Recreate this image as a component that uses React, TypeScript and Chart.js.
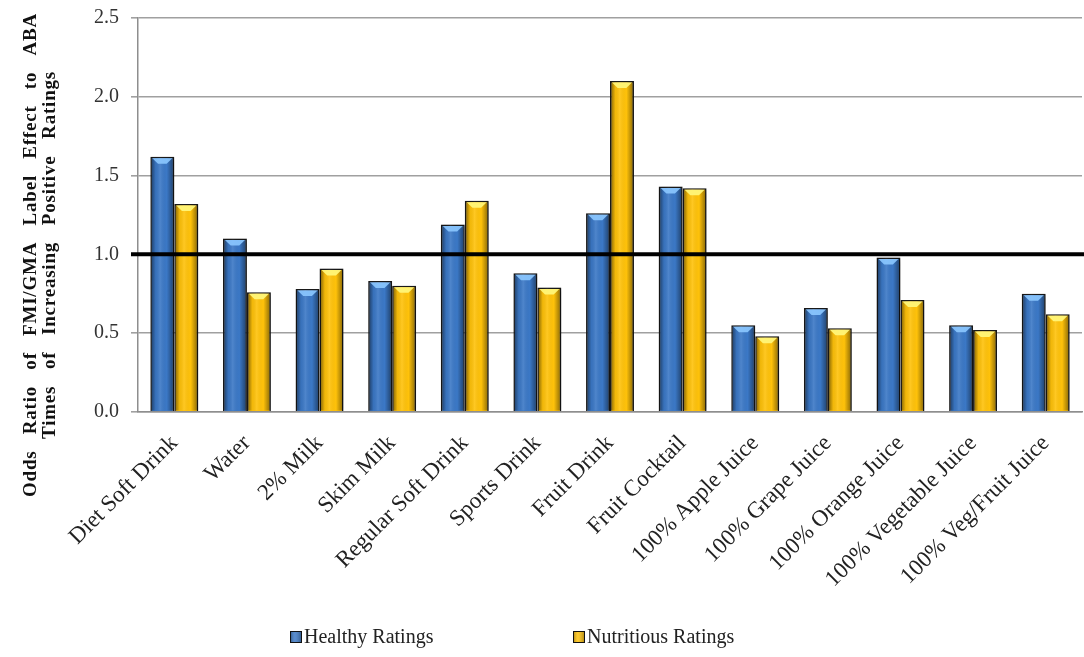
import React, { useEffect, useRef } from "react";
import { Chart, registerables } from "chart.js";

Chart.register(...registerables);

const categories = [
  "Diet Soft Drink",
  "Water",
  "2% Milk",
  "Skim Milk",
  "Regular Soft Drink",
  "Sports Drink",
  "Fruit Drink",
  "Fruit Cocktail",
  "100% Apple Juice",
  "100% Grape Juice",
  "100% Orange Juice",
  "100% Vegetable Juice",
  "100% Veg/Fruit Juice",
];

const healthyRatings = [1.62, 1.1, 0.78, 0.83, 1.19, 0.88, 1.26, 1.43, 0.55, 0.66, 0.98, 0.55, 0.75];
const nutritiousRatings = [1.32, 0.76, 0.91, 0.8, 1.34, 0.79, 2.1, 1.42, 0.48, 0.53, 0.71, 0.52, 0.62];

const seriesNames = ["Healthy Ratings", "Nutritious Ratings"];
const yTickValues = [0, 0.5, 1.0, 1.5, 2.0, 2.5];
const referenceValue = 1.0;
const yTitleLines = [
  "Odds Ratio of FMI/GMA Label Effect to ABA",
  "Times of Increasing Positive Ratings",
];

const FONT = "'Liberation Serif', 'DejaVu Serif', serif";
const seriesColors = ["#3B78C6", "#FFC20A"];
const highlightColors = ["rgba(140,200,255,0.9)", "rgba(255,245,120,0.95)"];

const barDecorPlugin = {
  id: "barDecor",
  beforeDatasetsDraw(chart: any) {
    const ctx = chart.ctx;
    ctx.save();
    ctx.shadowColor = "rgba(0,0,0,0.35)";
    ctx.shadowBlur = 5;
    ctx.shadowOffsetX = 2;
    ctx.shadowOffsetY = 1;
  },
  afterDatasetsDraw(chart: any) {
    const ctx = chart.ctx;
    ctx.restore();
    chart.data.datasets.forEach((_ds: any, di: number) => {
      const meta = chart.getDatasetMeta(di);
      meta.data.forEach((bar: any) => {
        const { x, y, base, width } = bar.getProps(["x", "y", "base", "width"], true);
        const l = x - width / 2 + 1;
        const r = x + width / 2 - 1;
        const t = y + 1;
        const b = base - 0.5;
        ctx.save();
        const g = ctx.createLinearGradient(l, 0, r, 0);
        g.addColorStop(0, "rgba(0,0,0,0.45)");
        g.addColorStop(0.2, "rgba(0,0,0,0.05)");
        g.addColorStop(0.4, "rgba(255,255,255,0.10)");
        g.addColorStop(0.7, "rgba(0,0,0,0.0)");
        g.addColorStop(1, "rgba(0,0,0,0.42)");
        ctx.fillStyle = g;
        ctx.fillRect(l, t, r - l, b - t);
        ctx.beginPath();
        ctx.moveTo(l + 1, t + 0.5);
        ctx.lineTo(r - 1, t + 0.5);
        ctx.lineTo(x + width * 0.18, t + 6);
        ctx.lineTo(x - width * 0.18, t + 6);
        ctx.closePath();
        ctx.fillStyle = highlightColors[di];
        ctx.fill();
        ctx.restore();
      });
    });
    // reference line at 1.0
    const ys = chart.scales.y;
    const area = chart.chartArea;
    const yy = ys.getPixelForValue(referenceValue);
    ctx.save();
    ctx.strokeStyle = "#000";
    ctx.lineWidth = 4;
    ctx.beginPath();
    ctx.moveTo(area.left - 7, yy);
    ctx.lineTo(area.right + 2, yy);
    ctx.stroke();
    ctx.restore();
  },
};

const yTitlePlugin = {
  id: "yTitle",
  afterDraw(chart: any) {
    const ctx = chart.ctx;
    const centers = [31, 50];
    const spans = [484, 368];
    const cy = 255;
    ctx.save();
    ctx.fillStyle = "#111";
    ctx.font = `bold 19px ${FONT}`;
    try {
      (ctx as any).letterSpacing = "0.8px";
    } catch (e) {}
    ctx.textBaseline = "middle";
    yTitleLines.forEach((line, i) => {
      const words = line.split(" ");
      const widths = words.map((w) => ctx.measureText(w).width);
      const total = widths.reduce((a, b) => a + b, 0);
      const gap = (spans[i] - total) / (words.length - 1);
      ctx.save();
      ctx.translate(centers[i], cy);
      ctx.rotate(-Math.PI / 2);
      let x = -spans[i] / 2;
      words.forEach((w, k) => {
        ctx.textAlign = "left";
        ctx.fillText(w, x, 0);
        x += widths[k] + gap;
      });
      ctx.restore();
    });
    ctx.restore();
  },
};

const legendPlugin = {
  id: "customLegend",
  afterDraw(chart: any) {
    const ctx = chart.ctx;
    const boxX = [290, 573];
    const cy = 637;
    ctx.save();
    ctx.font = `20px ${FONT}`;
    ctx.textBaseline = "middle";
    ctx.textAlign = "left";
    chart.data.datasets.forEach((ds: any, i: number) => {
      const bx = boxX[i];
      ctx.fillStyle = ds.backgroundColor;
      ctx.fillRect(bx, cy - 6, 12, 12);
      const g = ctx.createLinearGradient(bx, 0, bx + 12, 0);
      g.addColorStop(0, "rgba(0,0,0,0.35)");
      g.addColorStop(0.4, "rgba(255,255,255,0.15)");
      g.addColorStop(1, "rgba(0,0,0,0.35)");
      ctx.fillStyle = g;
      ctx.fillRect(bx, cy - 6, 12, 12);
      ctx.strokeStyle = "#111";
      ctx.lineWidth = 1;
      ctx.strokeRect(bx + 0.5, cy - 5.5, 11, 11);
      ctx.fillStyle = "#222";
      ctx.fillText(ds.label, bx + 14, cy + 1);
    });
    ctx.restore();
  },
};

export default function App() {
  const canvasRef = useRef<HTMLCanvasElement | null>(null);

  useEffect(() => {
    if (!canvasRef.current) return;
    Chart.defaults.font.family = FONT;
    const chart = new Chart(canvasRef.current, {
      type: "bar",
      data: {
        labels: categories,
        datasets: [
          {
            label: seriesNames[0],
            data: healthyRatings,
            backgroundColor: seriesColors[0],
            borderColor: "#1a1a1a",
            borderWidth: 1.5,
            categoryPercentage: 0.66,
            barPercentage: 1.0,
          },
          {
            label: seriesNames[1],
            data: nutritiousRatings,
            backgroundColor: seriesColors[1],
            borderColor: "#1a1a1a",
            borderWidth: 1.5,
            categoryPercentage: 0.66,
            barPercentage: 1.0,
          },
        ],
      },
      options: {
        animation: false,
        responsive: true,
        maintainAspectRatio: false,
        layout: { padding: { left: 82, right: 2, top: 18, bottom: 54 } },
        plugins: {
          legend: { display: false },
          tooltip: { enabled: false },
        },
        scales: {
          x: {
            grid: { display: false },
            border: { display: true, color: "#8E8E8E", width: 1.5 },
            ticks: {
              minRotation: 45,
              maxRotation: 45,
              autoSkip: false,
              color: "#222",
              font: { size: 23, family: FONT },
              padding: 10,
            },
          },
          y: {
            min: 0,
            max: 2.5,
            afterBuildTicks: (scale: any) => {
              scale.ticks = yTickValues.map((v) => ({ value: v }));
            },
            afterFit: (scale: any) => {
              scale.paddingTop = 0;
              scale.paddingBottom = 0;
            },
            grid: { color: "#A0A0A0", lineWidth: 1.6, tickLength: 7, drawTicks: true },
            border: { display: true, color: "#8E8E8E", width: 1.5 },
            ticks: {
              color: "#333",
              font: { size: 20, family: FONT, lineHeight: 1 },
              padding: 12,
              callback: (v: any) => Number(v).toFixed(1),
            },
          },
        },
      },
      plugins: [barDecorPlugin, yTitlePlugin, legendPlugin],
    });
    return () => chart.destroy();
  }, []);

  return (
    <div style={{ position: "absolute", left: 0, top: 0, width: 1084, height: 657, background: "#fff" }}>
      <canvas ref={canvasRef} />
    </div>
  );
}
